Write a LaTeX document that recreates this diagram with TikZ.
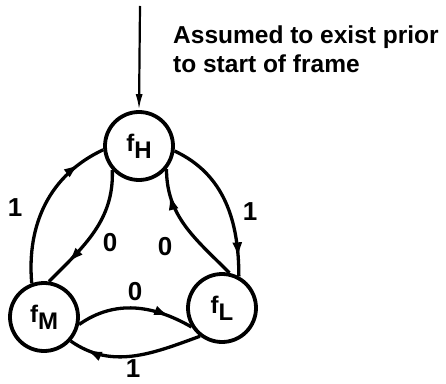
\documentclass[tikz,border=0pt]{standalone}
\usepackage{fontspec}
\setmainfont{Liberation Sans}
\usetikzlibrary{arrows.meta,decorations.markings}

\begin{document}
\begin{tikzpicture}[
    x=1pt, y=1pt,
    estado/.style={draw, circle, line width=3.8pt, minimum size=68pt, inner sep=0pt,
                   font=\fontsize{24}{26}\selectfont\bfseries},
    flujo/.style={line width=3.3pt, postaction={decorate},
                  decoration={markings, mark=at position #1 with {\arrow{Latex[length=16pt,width=10pt]}}}},
    flujo/.default=0.83,
    etiqueta/.style={font=\fontsize{26}{26}\selectfont\bfseries, inner sep=0pt},
    nota/.style={align=left, anchor=north west, inner sep=0pt,
                 font=\fontsize{24.5}{29}\selectfont\bfseries}
  ]
  \useasboundingbox (0,0) rectangle (446,383);

  \node[estado] (fh) at (139,237) {f\raisebox{-7pt}{H}};
  \node[estado] (fm) at (44,66)   {f\raisebox{-7pt}{M}};
  \node[estado] (fl) at (222,75)  {f\raisebox{-7pt}{L}};

  \coordinate (ent) at (140,377);
  \draw[line width=2.2pt, -{Latex[length=16pt,width=7pt]}] (ent) -- (fh.north);
  \node[nota] (nota) at (173,357) {Assumed to exist prior\\to start of frame};

  % lado izquierdo
  \draw[flujo] (fm.110) to[out=95, in=205] (fh.186);
  \draw[flujo=0.8] (fh.222) to[out=-88, in=45] (fm.82);
  % lado derecho
  \draw[flujo=0.88] (fh.-8) to[out=-25, in=90] (fl.62);
  \draw[flujo=0.8] (fl.78) to[out=135, in=-90] (fh.-40);
  % abajo
  \draw[flujo=0.8] (fm.-12) to[out=35, in=150] (fl.212);
  \draw[flujo=0.87] (fl.232) to[out=200, in=-35] (fm.-42);

  \node[etiqueta] (e1) at (15,175)  {1};
  \node[etiqueta] (e2) at (110,140) {0};
  \node[etiqueta] (e3) at (165,136) {0};
  \node[etiqueta] (e4) at (250,171) {1};
  \node[etiqueta] (e5) at (135,91)  {0};
  \node[etiqueta] (e6) at (133,14)  {1};
\end{tikzpicture}
\end{document}
